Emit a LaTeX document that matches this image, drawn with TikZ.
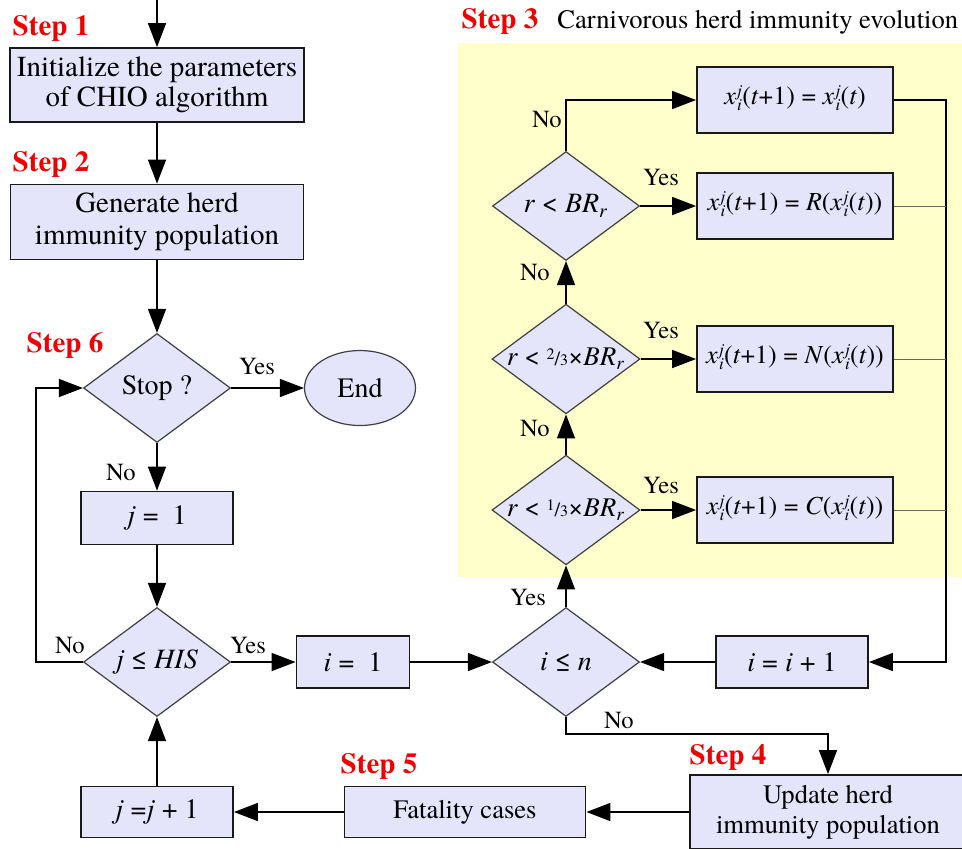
\documentclass[tikz,border=0pt]{standalone}
\usepackage{fontspec}
\IfFontExistsTF{texgyretermes-regular.otf}
  {\setmainfont{texgyretermes}[Extension=.otf, UprightFont=*-regular, BoldFont=*-bold, ItalicFont=*-italic, BoldItalicFont=*-bolditalic]}
  {\setmainfont{Liberation Serif}}
\usetikzlibrary{positioning, arrows.meta, shapes.geometric}
\usepackage{xcolor}
\definecolor{lav}{RGB}{228,228,250}
\definecolor{pale}{RGB}{255,255,204}
\definecolor{stepred}{RGB}{240,0,0}
\newcommand\supsub[2]{{\fontsize{8.5}{7.5}\selectfont\setlength\tabcolsep{0pt}\renewcommand\arraystretch{0.8}\begin{tabular}[c]{l}#1\\#2\end{tabular}}}
\newcommand\xij{\textit{x}\kern.05em\supsub{\textit{j}}{\textit{i}}}
\newcommand\frc[2]{\raisebox{.5ex}{\fontsize{8}{8}\selectfont #1}{\fontsize{10}{10}\selectfont/}{\fontsize{8}{8}\selectfont #2}}

\begin{document}
\begin{tikzpicture}[x=0.5pt, y=-0.5pt,
        every node/.style={align=center, font=\fontsize{14}{16}\selectfont},
        box/.style 2 args={draw=black!90, line width=0.9pt, fill=lav, inner sep=0pt, minimum width=#1, minimum height=#2},
        cond/.style={diamond, draw=black!75, line width=0.6pt, fill=lav, inner sep=0pt, aspect=1.35, minimum width=73.5pt, minimum height=54.5pt},
        formula/.style={box={98pt}{33pt}, font=\fontsize{13}{15}\selectfont},
        steplbl/.style={text=stepred, inner sep=0pt, font=\fontsize{14.5}{16}\selectfont\bfseries},
        yn/.style={inner sep=0pt, font=\fontsize{12.3}{14}\selectfont},
        arrow/.style={-{Triangle[length=12pt, width=9pt]}, line width=0.75pt}]

        \useasboundingbox (0,0) rectangle (962,848);
        \clip (0,0) rectangle (962,848);

        % fond du step 3
        \fill[pale] (458,43) rectangle (962,577);

        % colonne de gauche
        \node[box={147pt}{37pt}, font=\fontsize{14.5}{15}\selectfont] (init) at (157,85) {Initialize the parameters\\of CHIO algorithm};
        \node[box={146.5pt}{37.5pt}, font=\fontsize{14.5}{16}\selectfont] (gen) at (157,222) {Generate herd\\immunity population};
        \node[cond] (stop) at (157,388) {Stop ?};
        \node[ellipse, draw=black!75, line width=0.6pt, fill=lav, inner sep=0pt, minimum width=55.5pt, minimum height=37.5pt] (end) at (360,388) {End};
        \node[box={76pt}{26.5pt}] (jone) at (157,518) {\textit{j} = \ 1};
        \node[cond] (jhis) at (157,662) {\textit{j} ≤ \textit{HIS}};
        \node[box={76pt}{25.5pt}] (jinc) at (157,812) {\textit{j} =\textit{j} + 1};

        % ligne du bas
        \node[box={56.5pt}{26pt}] (ione) at (353,662) {\textit{i} = \ 1};
        \node[cond] (iton) at (566,662) {\textit{i} ≤ \textit{n}};
        \node[box={76pt}{26pt}] (iinc) at (792,662) {\textit{i} = \textit{i} + 1};
        \node[box={120.5pt}{25.5pt}, font=\fontsize{13.3}{15}\selectfont] (fatal) at (465,812) {Fatality cases};
        \node[box={138pt}{37pt}, font=\fontsize{13.3}{15}\selectfont] (update) at (828,812) {Update herd\\immunity population};

        % step 3 : tests et mises a jour
        \node[cond, font=\fontsize{13.5}{15}\selectfont] (c3) at (566,510) {\textit{r} < \frc{1}{3}×\textit{BR}\textsubscript{\textit{r}}};
        \node[cond, font=\fontsize{13.5}{15}\selectfont] (c2) at (566,359) {\textit{r} < \frc{2}{3}×\textit{BR}\textsubscript{\textit{r}}};
        \node[cond] (c1) at (566,206) {\textit{r} < \textit{BR}\textsubscript{\textit{r}}};
        \node[formula] (keep) at (795,100) {\xij(\textit{t}+1) = \xij(\textit{t})};
        \node[formula] (rnd) at (795,206) {\xij(\textit{t}+1) = \textit{R}(\xij(\textit{t}))};
        \node[formula] (nbr) at (795,359) {\xij(\textit{t}+1) = \textit{N}(\xij(\textit{t}))};
        \node[formula] (cur) at (795,510) {\xij(\textit{t}+1) = \textit{C}(\xij(\textit{t}))};

        % titres des etapes
        \node[steplbl] (s1) at (51,28) {Step 1};
        \node[steplbl] (s2) at (51,164) {Step 2};
        \node[steplbl] (s3) at (500,21) {Step 3};
        \node[anchor=west, inner sep=0pt, font=\fontsize{13.3}{15}\selectfont] (s3txt) at (557,22) {Carnivorous herd immunity evolution};
        \node[steplbl] (s4) at (728,757) {Step 4};
        \node[steplbl] (s5) at (379,766) {Step 5};
        \node[steplbl] (s6) at (65,345) {Step 6};

        % fleches
        \coordinate (entry) at (157,0);
        \coordinate (rail) at (946,662);
        \draw[arrow] (entry) -- (init);
        \draw[arrow] (init) -- (gen);
        \draw[arrow] (gen) -- (stop);
        \draw[arrow] (stop) -- (end);
        \draw[arrow] (stop) -- (jone);
        \draw[arrow] (jone) -- (jhis);
        \draw[arrow] (jhis.west) -- ++(-47,0) |- (stop.west);
        \draw[arrow] (jhis) -- (ione);
        \draw[arrow] (ione) -- (iton);
        \draw[arrow] (iinc) -- (iton);
        \draw[arrow] (iton.south) -- ++(0,17) -| (update.north);
        \draw[arrow] (update) -- (fatal);
        \draw[arrow] (fatal) -- (jinc);
        \draw[arrow] (jinc) -- (jhis);
        \draw[arrow] (iton) -- (c3);
        \draw[arrow] (c3) -- (c2);
        \draw[arrow] (c2) -- (c1);
        \draw[arrow] (c1.north) |- (keep.west);
        \draw[arrow] (c1) -- (rnd);
        \draw[arrow] (c2) -- (nbr);
        \draw[arrow] (c3) -- (cur);
        \draw[arrow] (keep.east) -| (rail) -- (iinc.east);
        \foreach \b in {rnd, nbr, cur}
            \draw[line width=0.5pt, black!60] (\b.east) -- (\b.east -| rail);

        % Yes / No
        \node[yn] (y-stop) at (257,366) {Yes};
        \node[yn] (n-stop) at (121,472) {No};
        \node[yn] (n-jhis) at (70,645) {No};
        \node[yn] (y-jhis) at (248,645) {Yes};
        \node[yn] (y-iton) at (528,597) {Yes};
        \node[yn] (n-iton) at (619,720) {No};
        \node[yn] (n-c1) at (547,119) {No};
        \node[yn] (y-c1) at (661,177) {Yes};
        \node[yn] (n-c2) at (535,272) {No};
        \node[yn] (y-c2) at (661,330) {Yes};
        \node[yn] (n-c3) at (535,428) {No};
        \node[yn] (y-c3) at (661,485) {Yes};
    \end{tikzpicture}
\end{document}
